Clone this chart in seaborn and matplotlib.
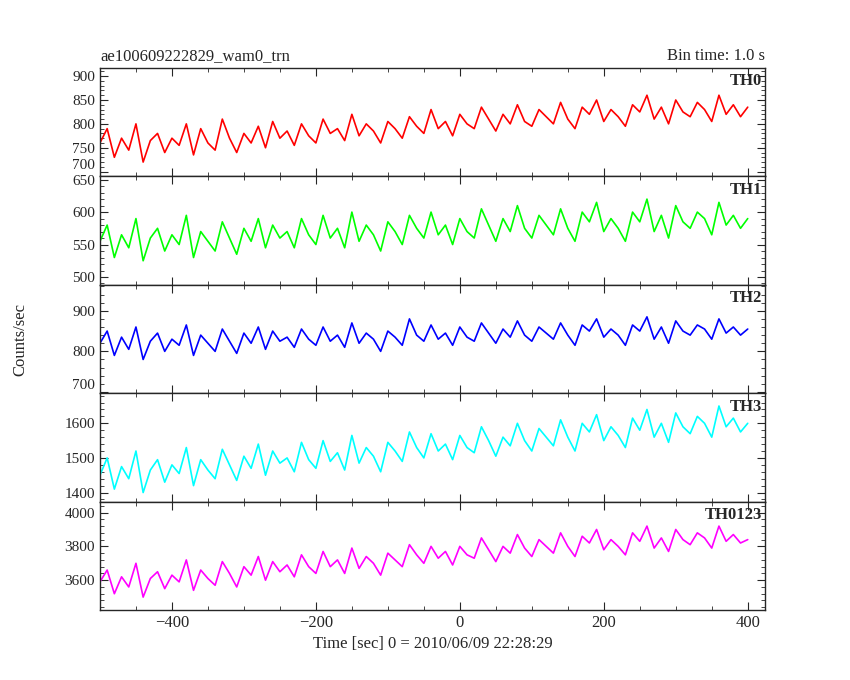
import numpy as np
import pandas as pd
import matplotlib
matplotlib.use("Agg")
import matplotlib.pyplot as plt
import seaborn as sns
from matplotlib.ticker import AutoMinorLocator

# time bins (sec), sampled every 10 s
time = list(range(-500, 401, 10))

th0 = [760,790,730,770,745,800,720,765,780,740,
       770,755,800,735,790,760,745,810,770,740,
       780,760,795,750,805,770,785,755,800,775,
       760,810,780,790,765,820,775,800,785,760,
       805,790,770,815,795,780,830,790,805,775,
       820,800,790,835,810,785,820,800,840,805,
       795,830,815,800,845,810,790,835,820,850,
       805,830,815,795,840,825,860,810,835,800,
       850,825,815,845,830,805,860,820,840,815,
       835]
th1 = [555,580,530,565,545,590,525,560,575,540,
       565,550,595,530,570,555,540,585,560,535,
       575,555,590,545,580,560,570,545,590,565,
       550,595,560,575,545,600,555,580,565,540,
       585,570,550,595,575,560,600,565,580,550,
       590,570,560,605,580,555,590,570,610,575,
       560,595,580,565,605,575,555,600,585,615,
       570,590,575,555,600,585,620,570,595,560,
       610,585,575,600,590,565,615,580,595,575,
       590]
th2 = [820,850,790,835,805,860,780,825,845,800,
       830,815,865,790,840,820,800,855,825,795,
       845,820,860,805,850,825,835,810,855,830,
       815,860,825,840,810,870,820,845,830,800,
       850,835,815,880,840,825,865,830,845,815,
       860,835,825,870,845,820,855,835,875,840,
       825,860,845,830,870,840,815,865,850,880,
       835,855,840,815,865,850,885,830,860,820,
       875,850,840,865,855,830,880,845,860,840,
       855]
th3 = [1450,1500,1410,1475,1440,1520,1400,1465,1495,1430,
       1480,1455,1530,1420,1495,1465,1440,1525,1480,1435,
       1505,1470,1540,1450,1520,1485,1500,1460,1545,1495,
       1470,1550,1490,1515,1465,1565,1485,1530,1505,1460,
       1545,1520,1490,1575,1530,1500,1570,1520,1540,1495,
       1565,1530,1515,1590,1550,1505,1560,1535,1600,1550,
       1520,1585,1560,1535,1610,1560,1520,1600,1575,1625,
       1550,1590,1565,1530,1615,1580,1640,1560,1600,1545,
       1630,1590,1570,1620,1600,1560,1650,1590,1615,1575,
       1600]
th0123 = [3590,3660,3520,3620,3560,3700,3500,3610,3650,3550,
          3630,3590,3720,3540,3660,3610,3570,3710,3640,3560,
          3680,3630,3740,3600,3710,3650,3690,3620,3750,3680,
          3640,3770,3680,3720,3640,3790,3670,3740,3700,3630,
          3760,3720,3680,3810,3750,3700,3800,3730,3770,3690,
          3800,3750,3730,3850,3780,3710,3800,3760,3870,3790,
          3740,3840,3800,3760,3880,3800,3740,3860,3820,3900,
          3780,3840,3800,3750,3880,3830,3920,3790,3850,3770,
          3900,3840,3810,3880,3850,3790,3920,3830,3870,3820,
          3840]

names = ["TH0", "TH1", "TH2", "TH3", "TH0123"]
series = [th0, th1, th2, th3, th0123]
colors = ["#ff0000", "#00ff00", "#0000ff", "#00ffff", "#ff00ff"]
ylims = [(690, 917), (488, 655), (697, 964), (1374, 1687), (3424, 4065)]
yticks = [[700, 750, 800, 850, 900], [500, 550, 600, 650], [700, 800, 900],
          [1400, 1500, 1600], [3600, 3800, 4000]]

sns.set_style("ticks")
plt.rcParams['font.family'] = ['Liberation Serif', 'DejaVu Serif']
plt.rcParams['font.size'] = 12

fig, axes = plt.subplots(5, 1, figsize=(8.5, 6.8), dpi=100, sharex=True)
fig.subplots_adjust(left=0.1176, right=0.9, top=0.9, bottom=0.103, hspace=0)

for ax, name, vals, c, yl, yt in zip(axes, names, series, colors, ylims, yticks):
    df = pd.DataFrame({"time": time, "rate": vals})
    sns.lineplot(data=df, x="time", y="rate", color=c, lw=1.2, ax=ax)
    ax.set_xlim(-500, 424)
    ax.set_ylim(*yl)
    ax.set_yticks(yt)
    ax.set_xlabel("")
    ax.set_ylabel("")
    ax.xaxis.set_minor_locator(AutoMinorLocator(4))
    ax.yaxis.set_minor_locator(AutoMinorLocator(5))
    ax.tick_params(which="both", direction="in", top=True, right=True)
    ax.tick_params(which="major", length=6)
    ax.tick_params(which="minor", length=3)
    ax.tick_params(axis="y", labelsize=11)
    for s in ax.spines.values():
        s.set_linewidth(1.0)
    ax.text(0.995, 0.95, name, transform=ax.transAxes, ha="right", va="top",
            fontsize=12, fontweight="bold")

# keep boundary labels from colliding between panels
axes[0].get_yticklabels()[0].set_va("bottom")
axes[2].get_yticklabels()[0].set_va("bottom")

axes[-1].set_xticks([-400, -200, 0, 200, 400])
axes[-1].set_xlabel("Time [sec] 0 = 2010/06/09 22:28:29")
axes[0].set_title("ae100609222829_wam0_trn", loc="left", fontsize=12)
axes[0].set_title("Bin time: 1.0 s", loc="right", fontsize=12)
fig.text(0.015, 0.5, "Counts/sec", rotation=90, va="center", ha="left", fontsize=12)

fig.savefig("out.png", dpi=100, facecolor="white")
